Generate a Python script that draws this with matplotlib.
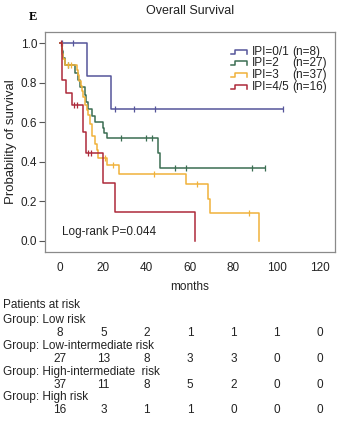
import numpy as np
import matplotlib
matplotlib.use("Agg")
import matplotlib.pyplot as plt
from matplotlib.lines import Line2D
from matplotlib.transforms import blended_transform_factory

plt.rcParams['font.family'] = ['Liberation Sans', 'DejaVu Sans']

# Kaplan-Meier step curves (months, survival)
blue_t = [0, 12.3, 23.4]
blue_s = [1.0, 0.833, 0.667]
blue_end = 102.8
blue_cens = [0.8, 5.8, 25.4, 34.3, 43.7, 102.8]

green_t = [0, 0.8, 1.5, 2.3, 6.9, 8.5, 9.2, 11.5, 12.0, 13.0, 14.6, 16.2, 19.7, 20.5, 21.5, 45.4, 46.2]
green_s = [1.0, 0.963, 0.926, 0.889, 0.852, 0.815, 0.778, 0.741, 0.704, 0.667, 0.630, 0.600, 0.570, 0.545, 0.521, 0.444, 0.370]
green_end = 94.6
green_cens = [0.8, 3.5, 28.3, 39.5, 42.5, 53.3, 58.3, 88.5, 94.6]

orange_t = [0, 0.8, 1.5, 2.5, 7.7, 8.3, 8.8, 9.7, 10.3, 10.8, 11.5, 12.5, 13.1, 13.8, 14.9,
            16.2, 16.9, 17.7, 21.5, 27.2, 58.2, 68.2, 69.2, 92.0]
orange_s = [1.0, 0.946, 0.919, 0.892, 0.865, 0.838, 0.811, 0.784, 0.757, 0.730, 0.690, 0.662, 0.635, 0.590, 0.530,
            0.490, 0.460, 0.420, 0.384, 0.340, 0.286, 0.213, 0.142, 0.0]
orange_end = 92.0
orange_cens = [3.5, 5.0, 20.8, 24.3, 43.3, 63.1, 87.4]

red_t = [0, 0.8, 3.0, 5.4, 10.5, 12.0, 20.0, 25.2, 62.3]
red_s = [1.0, 0.8125, 0.75, 0.6875, 0.55, 0.443, 0.295, 0.147, 0.0]
red_end = 62.3
red_cens = [0.3, 6.5, 8.0, 13.1, 14.5]

groups = ["IPI=0/1", "IPI=2", "IPI=3", "IPI=4/5"]
group_n = ["(n=8)", "(n=27)", "(n=37)", "(n=16)"]
colors = ["#55559a", "#3b6e52", "#f0b23a", "#ad2a3a"]

# numbers at risk
risk_months = [0, 20, 40, 60, 80, 100, 120]
risk_groups = ["Group: Low risk", "Group: Low-intermediate risk",
               "Group: High-intermediate  risk", "Group: High risk"]
risk_low = [8, 5, 2, 1, 1, 1, 0]
risk_lowint = [27, 13, 8, 3, 3, 0, 0]
risk_highint = [37, 11, 8, 5, 2, 0, 0]
risk_high = [16, 3, 1, 1, 0, 0, 0]

W, H = 338, 426
fig = plt.figure(figsize=(W / 100, H / 100), dpi=100)
ax = fig.add_axes([45 / W, 1 - 252 / H, 290 / W, 220 / H])


def level_at(times, surv, x):
    i = np.searchsorted(times, x, side='right') - 1
    return np.array(surv)[i]


curves = [(blue_t, blue_s, blue_end, blue_cens),
          (green_t, green_s, green_end, green_cens),
          (orange_t, orange_s, orange_end, orange_cens),
          (red_t, red_s, red_end, red_cens)]

for (t, s, end, cens), c in zip(curves, colors):
    tt = list(t) + ([end] if end > t[-1] else [])
    ss = list(s) + ([s[-1]] if end > t[-1] else [])
    ax.step(tt, ss, where='post', color=c, lw=1.1)
    ax.plot(cens, level_at(t, s, cens), ls='none', marker='|', ms=5, mew=0.9, color=c)

ax.set_xlim(-6.9, 126.9)
ax.set_ylim(-0.057, 1.058)
ax.set_xticks(risk_months)
ax.set_yticks([0.0, 0.2, 0.4, 0.6, 0.8, 1.0])
ax.set_yticklabels(["0.0", "0.2", "0.4", "0.6", "0.8", "1.0"])
ax.tick_params(axis='x', length=0, pad=7.5, labelsize=8.5, colors='#222222')
ax.tick_params(axis='y', length=4, width=0.8, pad=1.5, labelsize=8.5, colors='#222222', color='#555555')
for sp in ax.spines.values():
    sp.set_color('#8a8a8a')
    sp.set_linewidth(0.9)

ax.set_ylabel("Probability of survival", fontsize=9.5, color='#222222', labelpad=3)
ax.set_xlabel("months", fontsize=8.5, color='#222222', labelpad=5)
ax.set_title("Overall Survival", fontsize=9, color='#222222', pad=13)
fig.text(33 / W, 1 - 17 / H, "E", fontsize=9, fontweight='bold', family='Liberation Serif',
         ha='center', va='center')

ax.text(0.8, 0.045, "Log-rank P=0.044", fontsize=8.5, color='#222222', va='center')

# legend drawn by hand so the (n=..) column lines up
row_y = [0.910, 0.858, 0.805, 0.749]
for g, n, c, y in zip(groups, group_n, colors, row_y):
    hx = np.array([0, 0.25, 0.25, 1, 1]) * 0.055 + 0.641
    hy = np.array([0, 0, 1, 1, 0]) * 0.02 + y - 0.01
    ax.add_line(Line2D(hx, hy, transform=ax.transAxes, color=c, lw=1.1))
    ax.text(0.713, y, g, transform=ax.transAxes, fontsize=8.5, va='center', color='#222222')
    ax.text(0.854, y, n, transform=ax.transAxes, fontsize=8.5, va='center', color='#222222')

# patients at risk table
trans = blended_transform_factory(ax.transData, fig.transFigure)
fig.text(3 / W, 1 - 305 / H, "Patients at risk", fontsize=8.5, va='center', color='#222222')
rows = [risk_low, risk_lowint, risk_highint, risk_high]
head_y = [320, 346, 371.7, 396.7]
for name, vals, hy in zip(risk_groups, rows, head_y):
    fig.text(3 / W, 1 - hy / H, name, fontsize=8.5, va='center', color='#222222')
    for m, v in zip(risk_months, vals):
        fig.text(m, 1 - (hy + 13.5) / H, str(v), transform=trans, fontsize=8.5,
                 ha='center', va='center', color='#222222')

fig.savefig("out.png", dpi=100)
